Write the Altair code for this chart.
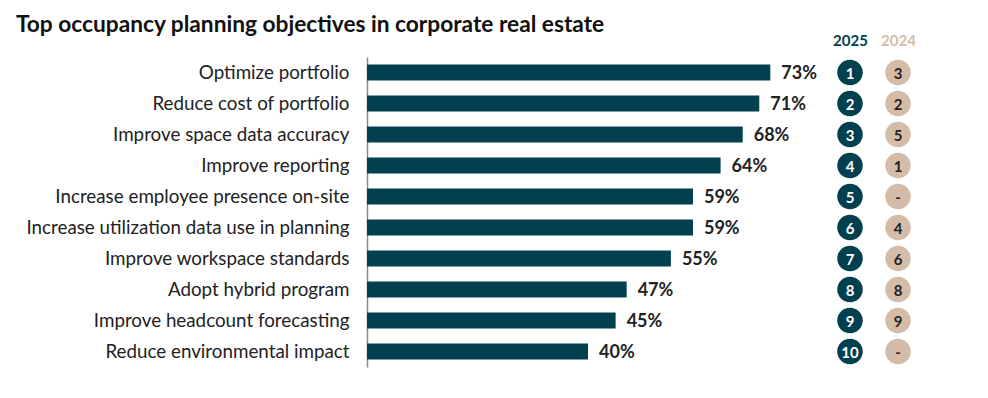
import altair as alt
import pandas as pd

categories = [
    "Optimize portfolio",
    "Reduce cost of portfolio",
    "Improve space data accuracy",
    "Improve reporting",
    "Increase employee presence on-site",
    "Increase utilization data use in planning",
    "Improve workspace standards",
    "Adopt hybrid program",
    "Improve headcount forecasting",
    "Reduce environmental impact",
]
values = [73, 71, 68, 64, 59, 59, 55, 47, 45, 40]
rank_2025 = ["1", "2", "3", "4", "5", "6", "7", "8", "9", "10"]
rank_2024 = ["3", "2", "5", "1", "-", "4", "6", "8", "9", "-"]
years = ["2025", "2024"]

TEAL = "#023f4f"
BEIGE = "#d4bca9"
FONT = "Lato"

bars_df = pd.DataFrame({
    "cat": categories,
    "val": values,
    "label": [f"{v}%" for v in values],
})

rank_rows = []
for c, r5, r4 in zip(categories, rank_2025, rank_2024):
    rank_rows.append({"cat": c, "year": years[0], "rank": r5})
    rank_rows.append({"cat": c, "year": years[1], "rank": r4})
ranks_df = pd.DataFrame(rank_rows)

yscale = alt.Scale(domain=categories, paddingInner=0.48, paddingOuter=0.24)

y_enc = alt.Y(
    "cat:N",
    sort=categories,
    scale=yscale,
    axis=alt.Axis(
        title=None,
        ticks=False,
        labelFontSize=18.8,
        labelFont=FONT,
        labelColor="#222222",
        labelPadding=18,
        labelLimit=500,
        domainColor="#8a8a8a",
        domainWidth=1.5,
        grid=False,
    ),
)

base = alt.Chart(bars_df)
bars = base.mark_bar(color=TEAL).encode(
    x=alt.X("val:Q", scale=alt.Scale(domain=[0, 80]), axis=None),
    y=y_enc,
)
pct = base.mark_text(
    align="left", baseline="middle", dx=11, dy=1,
    fontSize=18, fontWeight="bold", font=FONT, color="#222222",
).encode(
    x=alt.X("val:Q", scale=alt.Scale(domain=[0, 80]), axis=None),
    y=alt.Y("cat:N", sort=categories, scale=yscale),
    text="label:N",
)
left = alt.layer(bars, pct).properties(width=442, height=310)

rbase = alt.Chart(ranks_df)
x_r = alt.X(
    "year:N",
    sort=years,
    scale=alt.Scale(domain=years, paddingInner=0, paddingOuter=0),
    axis=alt.Axis(
        orient="top", title=None, ticks=False, domain=False,
        labelFontSize=15, labelFont=FONT, labelFontWeight="bold",
        labelPadding=9, labelAngle=0,
        labelColor=alt.expr(f"datum.value == '2025' ? '{TEAL}' : '{BEIGE}'"),
    ),
)
y_r = alt.Y("cat:N", sort=categories, scale=yscale, axis=None)
circles = rbase.mark_point(filled=True, shape="circle", size=650, opacity=1).encode(
    x=x_r,
    y=y_r,
    color=alt.Color("year:N", scale=alt.Scale(domain=years, range=[TEAL, BEIGE]), legend=None),
)
rtext = rbase.mark_text(
    baseline="middle", fontSize=15, fontWeight="bold", font=FONT, dy=1,
).encode(
    x=x_r,
    y=y_r,
    text="rank:N",
    color=alt.Color("year:N", scale=alt.Scale(domain=years, range=["#ffffff", "#222222"]), legend=None),
)
right = alt.layer(circles, rtext).resolve_scale(color="independent").properties(width=96, height=310)

chart = alt.hconcat(left, right, spacing=17, bounds="flush").resolve_scale(
    y="shared"
).properties(
    title=alt.TitleParams(
        "Top occupancy planning objectives in corporate real estate",
        anchor="start", font=FONT, fontSize=22.7, fontWeight="bold",
        color="#111111", offset=-4, dx=-10,
    ),
    padding={"left": 7, "top": 6, "right": 5, "bottom": 5},
).configure_view(stroke=None)

chart.save("out.html", embed_options={"renderer": "svg", "actions": False})
